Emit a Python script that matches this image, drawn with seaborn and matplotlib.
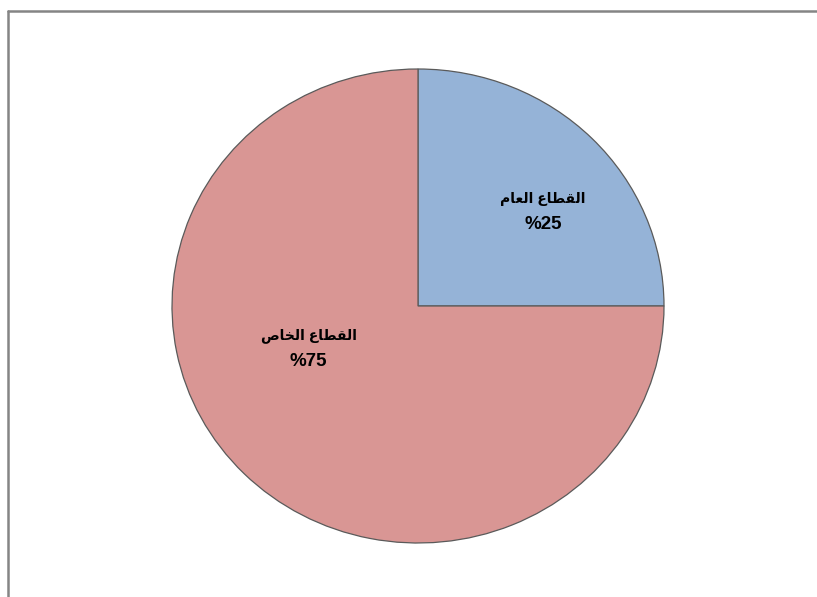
import matplotlib
matplotlib.use("Agg")
import matplotlib.pyplot as plt
import seaborn as sns
import numpy as np
from matplotlib.lines import Line2D

# sectors (Arabic, written here in logical order)
sectors = ["القطاع العام", "القطاع الخاص"]
shares = [25, 75]
colors = ["#95B3D7", "#D99694"]

# matplotlib has no Arabic shaping / bidi, so map letters to their
# presentation forms and reverse for left-to-right drawing
FORMS = {
    # letter: (isolated, final, initial, medial)
    "ا": ("\uFE8D", "\uFE8E", None, None),
    "ل": ("\uFEDD", "\uFEDE", "\uFEDF", "\uFEE0"),
    "ق": ("\uFED5", "\uFED6", "\uFED7", "\uFED8"),
    "ط": ("\uFEC1", "\uFEC2", "\uFEC3", "\uFEC4"),
    "ع": ("\uFEC9", "\uFECA", "\uFECB", "\uFECC"),
    "م": ("\uFEE1", "\uFEE2", "\uFEE3", "\uFEE4"),
    "خ": ("\uFEA5", "\uFEA6", "\uFEA7", "\uFEA8"),
    "ص": ("\uFEB9", "\uFEBA", "\uFEBB", "\uFEBC"),
}


def joins_next(ch):
    return ch in FORMS and FORMS[ch][2] is not None


def shape(text):
    out = []
    for i, ch in enumerate(text):
        if ch not in FORMS:
            out.append(ch)
            continue
        prev = text[i - 1] if i > 0 else ""
        nxt = text[i + 1] if i + 1 < len(text) else ""
        left = joins_next(prev)
        right = nxt in FORMS and FORMS[ch][2] is not None
        iso, fin, ini, med = FORMS[ch]
        if left and right:
            out.append(med)
        elif left:
            out.append(fin)
        elif right:
            out.append(ini)
        else:
            out.append(iso)
    return "".join(out)[::-1]


sns.set_theme(style="white")
plt.rcParams["font.family"] = ["Liberation Sans", "DejaVu Sans"]

fig = plt.figure(figsize=(8.17, 5.97), dpi=100)
ax = fig.add_axes([172 / 817, 54 / 597, 492 / 817, 474 / 597])

wedges, texts, pcts = ax.pie(
    shares, colors=colors, startangle=90, counterclock=False,
    labels=[shape(s) for s in sectors], labeldistance=0.6,
    autopct=lambda p: f"%{p:.0f}", pctdistance=0.6,
    wedgeprops=dict(edgecolor="#5a5a5a", linewidth=0.9),
    textprops=dict(color="black", fontweight="bold"),
)

# label placement (angle in degrees, fraction of radius), like Excel best fit
label_pos = [(38, 0.645), (202, 0.48)]
for t, p, (ang, r) in zip(texts, pcts, label_pos):
    a = np.deg2rad(ang)
    x, y = r * np.cos(a), r * np.sin(a)
    t.set_position((x, y + 0.053))
    t.set_ha("center")
    t.set_va("center")
    t.set_fontsize(10)
    p.set_position((x, y - 0.053))
    p.set_fontsize(13.5)

ax.set_aspect("auto")
ax.set_xlim(-1, 1)
ax.set_ylim(-1, 1)
ax.axis("off")

# chart area frame (only left/top edges are visible in the crop)
x0, y0 = 7.5 / 817, 1 - 10.5 / 597
fig.add_artist(Line2D([x0, 1.0], [y0, y0], transform=fig.transFigure,
                      color="#858585", linewidth=1.8))
fig.add_artist(Line2D([x0, x0], [0.0, y0], transform=fig.transFigure,
                      color="#858585", linewidth=1.8))

fig.savefig("out.png", dpi=100)
